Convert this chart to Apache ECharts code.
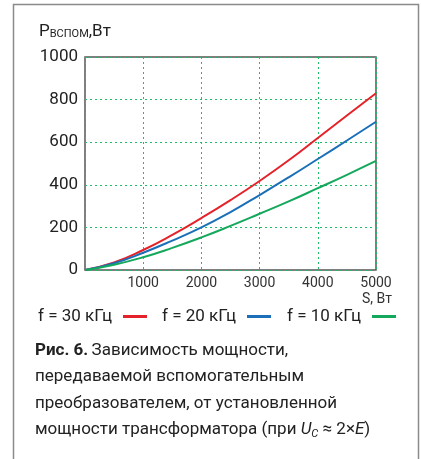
<!DOCTYPE html>
<html><head><meta charset="utf-8">
<script src="https://cdn.jsdelivr.net/npm/echarts@6/dist/echarts.min.js"></script>
<style>html,body{margin:0;padding:0;background:#fff}#c{width:421px;height:459px}</style>
</head><body><div id="c"></div>
<script>
const sValues = [0, 500, 1000, 1500, 2000, 2500, 3000, 3500, 4000, 4500, 5000];
const f30 = [0, 35, 94, 165, 244, 328, 418, 515, 620, 725, 830];
const f20 = [0, 32, 81, 138, 200, 272, 352, 435, 521, 608, 696];
const f10 = [0, 25, 60, 104, 153, 207, 264, 322, 384, 447, 512];
const seriesNames = ['f = 30 кГц', 'f = 20 кГц', 'f = 10 кГц'];
const xTicks = [1000, 2000, 3000, 4000, 5000];
const yTicks = [0, 200, 400, 600, 800, 1000];

const FONT = 'Roboto, "Liberation Sans", sans-serif';
const pair = (arr) => sValues.map((s, i) => [s, arr[i]]);
const colors = ['#e5222a', '#1b6fb8', '#14a85c'];
const legendLefts = [33, 157, 282];

const chart = echarts.init(document.getElementById('c'), null, {renderer: 'canvas'});
chart.setOption({
  animation: false,
  textStyle: {fontFamily: FONT},
  grid: {left: 85, right: 45, top: 57, bottom: 189, show: true, borderColor: '#555', borderWidth: 1.5, backgroundColor: 'transparent'},
  xAxis: {
    type: 'value', min: 0, max: 5000, interval: 1000,
    axisLine: {show: false}, axisTick: {show: false},
    splitLine: {show: true, lineStyle: {color: '#1fbf6a', type: [2, 3], width: 1}},
    axisLabel: {fontSize: 14, color: '#333', margin: 6, fontFamily: FONT,
      formatter: v => (xTicks.indexOf(v) >= 0 ? String(v) : '')}
  },
  yAxis: {
    type: 'value', min: 0, max: 1000, interval: 200,
    axisLine: {show: false}, axisTick: {show: false},
    splitLine: {show: true, lineStyle: {color: '#1fbf6a', type: [2, 3], width: 1}},
    axisLabel: {fontSize: 17, color: '#222', margin: 7, fontFamily: FONT,
      formatter: v => (yTicks.indexOf(v) >= 0 ? String(v) : '')}
  },
  legend: seriesNames.map((n, i) => ({
    left: legendLefts[i], top: 303, align: 'right', itemWidth: 24, itemHeight: 3,
    icon: 'rect', selectedMode: false,
    textStyle: {fontSize: 17, color: '#222', fontFamily: FONT, padding: [0, 6, 0, 0]},
    data: [n]
  })),
  series: [
    {name: seriesNames[0], type: 'line', data: pair(f30), smooth: true, showSymbol: false, lineStyle: {width: 2, color: colors[0]}, itemStyle: {color: colors[0]}},
    {name: seriesNames[1], type: 'line', data: pair(f20), smooth: true, showSymbol: false, lineStyle: {width: 2, color: colors[1]}, itemStyle: {color: colors[1]}},
    {name: seriesNames[2], type: 'line', data: pair(f10), smooth: true, showSymbol: false, lineStyle: {width: 2, color: colors[2]}, itemStyle: {color: colors[2]}}
  ],
  graphic: [
    {type: 'rect', shape: {x: 13.5, y: 4.5, width: 405, height: 480}, style: {fill: 'none', stroke: '#8a8a8a', lineWidth: 1.5}, silent: true},
    {type: 'text', left: 39, top: 23, style: {
      text: '{p|P}{s|ВСПОМ}{p|,Вт}',
      rich: {
        p: {fontSize: 17, fill: '#222', fontFamily: FONT, verticalAlign: 'bottom'},
        s: {fontSize: 11, fill: '#222', fontFamily: FONT, padding: [7, 0, 0, 0], verticalAlign: 'bottom'}
      }}},
    {type: 'text', left: 362, top: 292, style: {text: 'S, Вт', fontSize: 14, fill: '#333', fontFamily: FONT}},
    {type: 'text', left: 35, top: 337, style: {
      text: '{b|Рис. 6.} {n|Зависимость мощности,}\n{n|передаваемой вспомогательным}\n{n|преобразователем, от установленной}\n{n|мощности трансформатора (при }{i|U}{sub|C}{n| ≈ 2×}{i|E}{n|)}',
      lineHeight: 26.5,
      rich: {
        b: {fontSize: 17, fontWeight: 'bold', fill: '#222', fontFamily: FONT, lineHeight: 26.5},
        n: {fontSize: 17, fill: '#222', fontFamily: FONT, lineHeight: 26.5},
        i: {fontSize: 17, fontStyle: 'italic', fill: '#222', fontFamily: FONT, lineHeight: 26.5},
        sub: {fontSize: 11, fontStyle: 'italic', fill: '#222', fontFamily: FONT, padding: [8, 0, 0, 0], lineHeight: 26.5}
      }}}
  ]
});
</script></body></html>
